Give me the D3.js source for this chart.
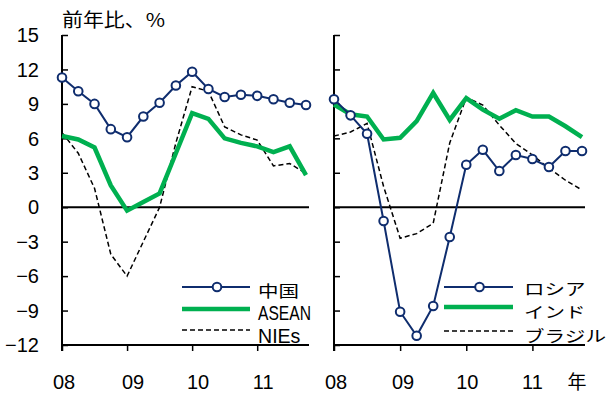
<!DOCTYPE html>
<html><head><meta charset="utf-8">
<script src="https://cdn.jsdelivr.net/npm/d3@7"></script>
<style>body{margin:0;background:#fff}svg{display:block}</style>
</head><body>
<script>
const quarters = ["08Q1","08Q2","08Q3","08Q4","09Q1","09Q2","09Q3","09Q4","10Q1","10Q2","10Q3","10Q4","11Q1","11Q2","11Q3","11Q4"];
const yearLabels = ["08","09","10","11"];
const yTicks = [-12,-9,-6,-3,0,3,6,9,12,15];
const china  = [11.3,10.1,9.0,6.8,6.1,7.9,9.1,10.6,11.8,10.3,9.6,9.8,9.7,9.4,9.1,8.9];
const asean  = [6.2,5.9,5.2,1.9,-0.3,0.45,1.2,4.7,8.2,7.7,6.0,5.6,5.3,4.8,5.3,2.8];
const nies   = [6.5,4.7,1.65,-4.1,-6.0,-3.0,0.0,5.6,10.5,10.1,7.0,6.3,5.85,3.6,3.8,2.95];
const russia = [9.4,8.0,6.4,-1.2,-9.1,-11.2,-8.6,-2.6,3.7,5.0,3.15,4.55,4.2,3.5,4.9,4.9];
const india  = [8.95,8.1,7.9,5.9,6.05,7.5,9.95,7.6,9.5,8.5,7.7,8.45,7.9,7.9,7.05,6.1];
const brazil = [6.2,6.55,7.3,1.8,-2.7,-2.3,-1.4,5.6,9.55,8.9,7.15,5.55,4.55,3.4,2.35,1.5];

const W = 609, H = 394;
const NAVY = "#0f2d6e", GREEN = "#00b050";
const svg = d3.select("body").append("svg").attr("width", W).attr("height", H);
const y = d3.scaleLinear().domain([-12, 15]).range([345, 35]);
const jp = "'Noto Sans CJK JP', 'Noto Sans', sans-serif";
const num = "'Liberation Sans', Arial, sans-serif";

// y tick labels (left only)
svg.append("g").selectAll("text").data(yTicks).join("text")
  .attr("x", 39).attr("y", d => y(d)).attr("dy", "0.36em")
  .attr("text-anchor", "end").attr("font-family", num).attr("font-size", 20)
  .attr("fill", "#000")
  .text(d => d < 0 ? "\u2212" + Math.abs(d) : d);

svg.append("text").attr("x", 62).attr("y", 27).attr("font-family", jp)
  .attr("font-size", 19).attr("textLength", 103).attr("lengthAdjust", "spacingAndGlyphs")
  .text("前年比、%");

const panels = [
  {x0: 62, x1: 306, xEnd: 309, series: [
     {name: "中国", data: china, type: "marker"},
     {name: "ASEAN", data: asean, type: "thick"},
     {name: "NIEs", data: nies, type: "dash"}],
   legend: {lx0: 182, lx1: 250, tx: 258, ys: [287, 309, 330], ts: [291, 313, 336]}, labelDx: [2,6,6,6], nian: false},
  {x0: 334, x1: 582, xEnd: 585, series: [
     {name: "ロシア", data: russia, type: "marker"},
     {name: "インド", data: india, type: "thick"},
     {name: "ブラジル", data: brazil, type: "dash"}],
   legend: {lx0: 444, lx1: 513, tx: 524, ys: [287, 307, 331], ts: [289, 312, 336]}, labelDx: [2,3,1,0], nian: true}
];

panels.forEach(p => {
  const x = d3.scaleLinear().domain([0, 15]).range([p.x0, p.x1]);
  const g = svg.append("g");
  const ax = p.x0;
  // zero line
  g.append("line").attr("x1", ax).attr("x2", p.xEnd).attr("y1", y(0)).attr("y2", y(0))
    .attr("stroke", "#000").attr("stroke-width", 2);
  // y axis
  const yAxis = d3.axisRight(y).tickValues(yTicks).tickSize(6).tickFormat("");
  const ya = g.append("g").attr("transform", `translate(${ax},0)`).call(yAxis);
  ya.select(".domain").remove();
  ya.selectAll(".tick line").attr("stroke", "#000").attr("stroke-width", 1.5);
  g.append("line").attr("x1", ax).attr("x2", ax).attr("y1", y(15)).attr("y2", y(-12) + 6)
    .attr("stroke", "#000").attr("stroke-width", 2);
  // x axis
  g.append("line").attr("x1", ax).attr("x2", p.xEnd).attr("y1", y(-12)).attr("y2", y(-12))
    .attr("stroke", "#000").attr("stroke-width", 2);
  const xAxis = d3.axisBottom(x).tickValues([0,4,8,12]).tickSize(6).tickFormat("");
  const xa = g.append("g").attr("transform", `translate(0,${y(-12)})`).call(xAxis);
  xa.select(".domain").remove();
  xa.selectAll(".tick line").attr("stroke", "#000").attr("stroke-width", 1.5);
  g.append("g").selectAll("text").data(yearLabels).join("text")
    .attr("x", (d, i) => x(i * 4) + p.labelDx[i]).attr("y", 389)
    .attr("text-anchor", "middle").attr("font-family", num).attr("font-size", 20)
    .text(d => d);
  if (p.nian) g.append("text").attr("x", 577).attr("y", 389).attr("text-anchor", "middle")
    .attr("font-family", jp).attr("font-size", 19).text("年");

  const line = d3.line().x((d, i) => x(i)).y(d => y(d));
  const order = [p.series[2], p.series[1], p.series[0]];
  order.forEach(s => {
    const path = g.append("path").datum(s.data).attr("d", line).attr("fill", "none");
    if (s.type === "marker") {
      path.attr("stroke", NAVY).attr("stroke-width", 2);
      g.append("g").selectAll("circle").data(s.data).join("circle")
        .attr("cx", (d, i) => x(i)).attr("cy", d => y(d)).attr("r", 4.3)
        .attr("fill", "#fff").attr("stroke", NAVY).attr("stroke-width", 2);
    } else if (s.type === "thick") {
      path.attr("stroke", GREEN).attr("stroke-width", 4.5).attr("stroke-linejoin", "miter");
    } else {
      path.attr("stroke", "#000").attr("stroke-width", 1.5).attr("stroke-dasharray", "5,3");
    }
  });

  // legend
  const L = p.legend;
  p.series.forEach((s, i) => {
    const ly = L.ys[i];
    const ln = g.append("line").attr("x1", L.lx0).attr("x2", L.lx1).attr("y1", ly).attr("y2", ly);
    if (s.type === "marker") {
      ln.attr("stroke", NAVY).attr("stroke-width", 2);
      g.append("circle").attr("cx", (L.lx0 + L.lx1) / 2 + 1).attr("cy", ly).attr("r", 4.3)
        .attr("fill", "#fff").attr("stroke", NAVY).attr("stroke-width", 2);
    } else if (s.type === "thick") {
      ln.attr("stroke", GREEN).attr("stroke-width", 4.5);
    } else {
      ln.attr("stroke", "#000").attr("stroke-width", 1.5).attr("stroke-dasharray", "5,3");
    }
    const isLatin = /^[A-Za-z]+$/.test(s.name);
    const t = g.append("text").attr("x", L.tx).attr("y", L.ts[i]).attr("dy", "0.36em")
      .attr("font-family", isLatin ? num : jp).attr("font-size", isLatin ? 20 : 15.5)
      .text(s.name);
    const len = isLatin ? s.name.length * 10.6 : s.name.length * 20.5;
    t.attr("textLength", len).attr("lengthAdjust", "spacingAndGlyphs");
  });
});
</script>
</body></html>
